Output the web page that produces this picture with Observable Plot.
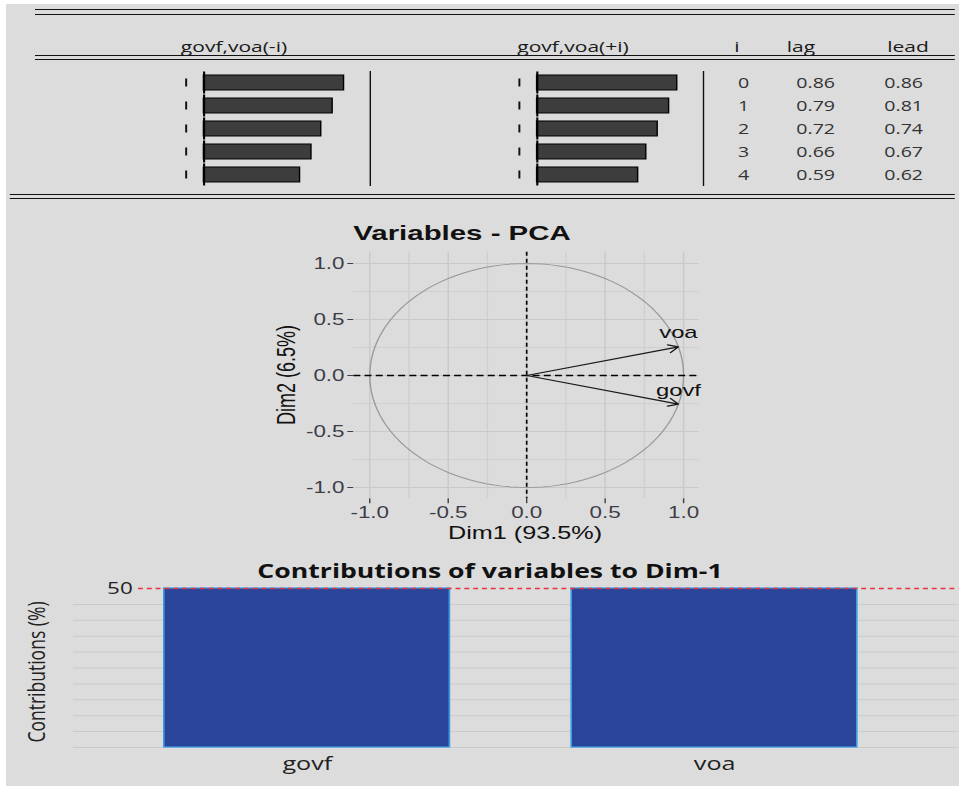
<!DOCTYPE html>
<html><head><meta charset="utf-8">
<script src="https://cdn.jsdelivr.net/npm/d3@7"></script>
<script src="https://cdn.jsdelivr.net/npm/@observablehq/plot@0.6"></script>
<style>
html,body{margin:0;padding:0;background:#fff;}
body{width:959px;height:786px;overflow:hidden;position:relative;}
#bg{position:absolute;left:6px;top:4px;width:953px;height:782px;background:#dcdcdc;}
#page{position:absolute;left:0;top:0;width:685px;height:786px;transform:scaleX(1.4);transform-origin:0 0;}
.abs{position:absolute;}
.lbl{position:absolute;white-space:nowrap;line-height:1;}
.hl{position:absolute;height:0;border-top:1.3px solid #111;}
.vl{position:absolute;width:0;border-left:1.3px solid #111;}
</style></head><body>
<div id="bg"></div>
<div id="page"></div>
<script>
// ---------------- data ----------------
const lagIndex = [0, 1, 2, 3, 4];
const lagCorr = [0.86, 0.79, 0.72, 0.66, 0.59];
const leadCorr = [0.86, 0.81, 0.74, 0.67, 0.62];
const ccfBounds = [-0.11, 0.11];
const ccfHeaders = ["govf,voa(-i)", "govf,voa(+i)", "i", "lag", "lead"];
const tableColumns = ["i", "lag", "lead"];

const pcaVariables = ["govf", "voa"];
const pcaDim1 = [0.967, 0.967];
const pcaDim2 = [-0.255, 0.255];
const pcaTicks = [-1, -0.5, 0, 0.5, 1];
const pcaMinorTicks = [-0.75, -0.25, 0.25, 0.75];

const contribVariables = ["govf", "voa"];
const contribValues = [50, 50];
const contribExpected = [50];
const contribGrid = [0, 5, 10, 15, 20, 25, 30, 35, 40, 45];

// ---------------- layout helpers ----------------
const S = 1.4;                 // horizontal stretch of the reference picture
const X = px => px / S;        // reference x pixel -> unscaled layout x
const page = document.getElementById("page");
const baseStyle = {background: "transparent", overflow: "visible", maxWidth: "none"};

function place(node, leftRef, top) {
  const d = document.createElement("div");
  d.className = "abs";
  d.style.left = X(leftRef) + "px";
  d.style.top = top + "px";
  d.appendChild(node);
  page.appendChild(d);
}
function label(text, cxRef, cy, css, rotate) {
  const d = document.createElement("div");
  d.className = "lbl";
  d.textContent = text;
  d.style.left = X(cxRef) + "px";
  d.style.top = cy + "px";
  d.style.transform = "translate(-50%,-50%)" + (rotate ? " rotate(-90deg)" : "");
  Object.assign(d.style, css);
  page.appendChild(d);
}
function hline(x1, x2, y) {
  const d = document.createElement("div");
  d.className = "hl";
  d.style.left = X(x1) + "px"; d.style.width = X(x2 - x1) + "px"; d.style.top = y + "px";
  page.appendChild(d);
}
function vline(x, y1, y2) {
  const d = document.createElement("div");
  d.className = "vl";
  d.style.left = X(x) + "px"; d.style.top = y1 + "px"; d.style.height = (y2 - y1) + "px";
  page.appendChild(d);
}

// ---------------- top: cross-correlogram table ----------------
[9, 13.5].forEach(y => hline(35, 955, y));
[54.5, 58.5].forEach(y => hline(35, 955, y));
[193.5, 197.5].forEach(y => hline(10, 955, y));
vline(370, 70.5, 185.5);
vline(703, 70.5, 185.5);

const headerCss = {fontFamily: "'Open Sans', sans-serif", fontSize: "15px", color: "#1a1a1a"};
const headerX = [234, 573, 737, 801, 908];
ccfHeaders.forEach((h, k) => label(h, headerX[k], 46, headerCss));

const unitRef = 163;
function ccfBars(values) {
  const rows = lagIndex.map((i, k) => ({i, v: values[k]}));
  const bounds = rows.flatMap(r => ccfBounds.map(b => ({i: r.i, b})));
  return Plot.plot({
    width: X(unitRef * 1.3), height: 115, margin: 0,
    x: {domain: [-0.2, 1.1], axis: null},
    y: {type: "band", domain: lagIndex, padding: 0, axis: null},
    style: baseStyle,
    marks: [
      Plot.tickX(bounds, {x: "b", y: "i", insetTop: 7.5, insetBottom: 7.5, stroke: "#111", strokeWidth: 1.4}),
      Plot.barX(rows, {x: "v", y: "i", insetTop: 4, insetBottom: 4, fill: "#3d3d3d", stroke: "#000", strokeWidth: 1}),
      Plot.tickX(rows, {x: () => 0, y: "i", insetTop: 0.5, insetBottom: 0.5, stroke: "#000", strokeWidth: 1.5})
    ]
  });
}
place(ccfBars(lagCorr), 203 - 0.2 * unitRef, 70.5);
place(ccfBars(leadCorr), 537 - 0.2 * unitRef, 70.5);

const cells = lagIndex.flatMap((i, k) => [
  {col: "i", i, t: String(i)},
  {col: "lag", i, t: lagCorr[k].toFixed(2)},
  {col: "lead", i, t: leadCorr[k].toFixed(2)}
]);
const columnOffsetRef = {i: 43, lag: 115, lead: 203};   // column centres, relative to the table's left edge
place(Plot.plot({
  width: X(260), height: 115, margin: 0,
  y: {type: "band", domain: lagIndex, padding: 0, axis: null},
  style: {...baseStyle, fontFamily: "'Open Sans', sans-serif"},
  marks: tableColumns.map(c => Plot.text(cells.filter(d => d.col === c), {
    y: "i", text: "t", frameAnchor: "left", textAnchor: "middle", dx: X(columnOffsetRef[c]), dy: 1, fontSize: 14, fill: "#333"
  }))
}), 700, 70.5);

// ---------------- middle: PCA variables plot ----------------
const pcaData = pcaVariables.map((name, k) => ({name, d1: pcaDim1[k], d2: pcaDim2[k]}));
const unitCircle = d3.range(0, 361, 3).map(a => ({x: Math.cos(a * Math.PI / 180), y: Math.sin(a * Math.PI / 180)}));
const fmt1 = d => d.toFixed(1);
place(Plot.plot({
  width: 330, height: 345, marginLeft: 62.4, marginRight: 21, marginTop: 51.8, marginBottom: 46.8,
  x: {domain: [-1.1, 1.1], ticks: pcaTicks, tickFormat: fmt1, tickSize: 5, tickPadding: 3, label: null},
  y: {domain: [-1.1, 1.1], ticks: pcaTicks, tickFormat: fmt1, tickSize: 4.3, tickPadding: 2.5, label: null},
  style: {...baseStyle, fontFamily: "'Liberation Sans', Arial, sans-serif", fontSize: "16px", color: "#3d3d48"},
  marks: [
    Plot.ruleX(pcaMinorTicks, {stroke: "#cfcfcf", strokeWidth: 1}),
    Plot.ruleY(pcaMinorTicks, {stroke: "#cfcfcf", strokeWidth: 1}),
    Plot.ruleX(pcaTicks, {stroke: "#c9c9c9", strokeWidth: 1}),
    Plot.ruleY(pcaTicks, {stroke: "#c9c9c9", strokeWidth: 1}),
    Plot.line(unitCircle, {x: "x", y: "y", stroke: "#999", strokeWidth: 1}),
    Plot.ruleX([0], {stroke: "#000", strokeDasharray: "4,3", strokeWidth: 1.2}),
    Plot.ruleY([0], {stroke: "#000", strokeDasharray: "5,3", strokeWidth: 1.3}),
    Plot.arrow(pcaData, {x1: () => 0, y1: () => 0, x2: "d1", y2: "d2", stroke: "#1a1a1a", strokeWidth: 1.2, headLength: 10}),
    Plot.text(pcaData, {x: "d1", y: "d2", text: "name", dy: -14, fontSize: 17, fill: "#111"})
  ]
}), 266, 200);

const pcaFont = "'Liberation Sans', Arial, sans-serif";
label("Variables - PCA", 462, 232, {fontFamily: pcaFont, fontSize: "21px", fontWeight: "bold", color: "#111"});
label("Dim1 (93.5%)", 525, 533, {fontFamily: pcaFont, fontSize: "18px", color: "#111"});
label("Dim2 (6.5%)", 287, 375, {fontFamily: pcaFont, fontSize: "18px", color: "#111"}, true);

// ---------------- bottom: contributions to Dim-1 ----------------
const contrib = contribVariables.map((name, k) => ({name, value: contribValues[k]}));
place(Plot.plot({
  width: X(959), height: 236, marginLeft: X(62), marginRight: X(959) - X(958.5), marginTop: 38, marginBottom: 39,
  x: {type: "band", domain: contribVariables, paddingInner: 0.3, paddingOuter: 0.25, tickSize: 0, tickPadding: 10, label: null},
  y: {domain: [0, 50], axis: null},
  style: {...baseStyle, fontFamily: "'Open Sans', sans-serif", fontSize: "18px", color: "#222"},
  marks: [
    Plot.ruleY(contribGrid, {stroke: "#cacaca", strokeWidth: 1, insetLeft: X(73) - X(62)}),
    Plot.barY(contrib, {x: "name", y: "value", fill: "#2a4499", stroke: "#3a9de6", strokeWidth: 1.2}),
    Plot.ruleY(contribExpected, {stroke: "#e8333f", strokeDasharray: "3.5,2.8", strokeWidth: 1.3, insetLeft: X(138) - X(62)}),
    Plot.text(contribExpected, {y: d => d, text: d => String(d), frameAnchor: "left", dx: X(132) - X(62), textAnchor: "end", fontSize: 16, fill: "#222"})
  ]
}), 0, 550);

label("Contributions of variables to Dim-1", 490, 571, {fontFamily: "'Open Sans', sans-serif", fontSize: "19px", fontWeight: "bold", color: "#111"});
label("Contributions (%)", 37, 672, {fontFamily: "'Open Sans', sans-serif", fontSize: "17.5px", color: "#222"}, true);
</script>
</body></html>
